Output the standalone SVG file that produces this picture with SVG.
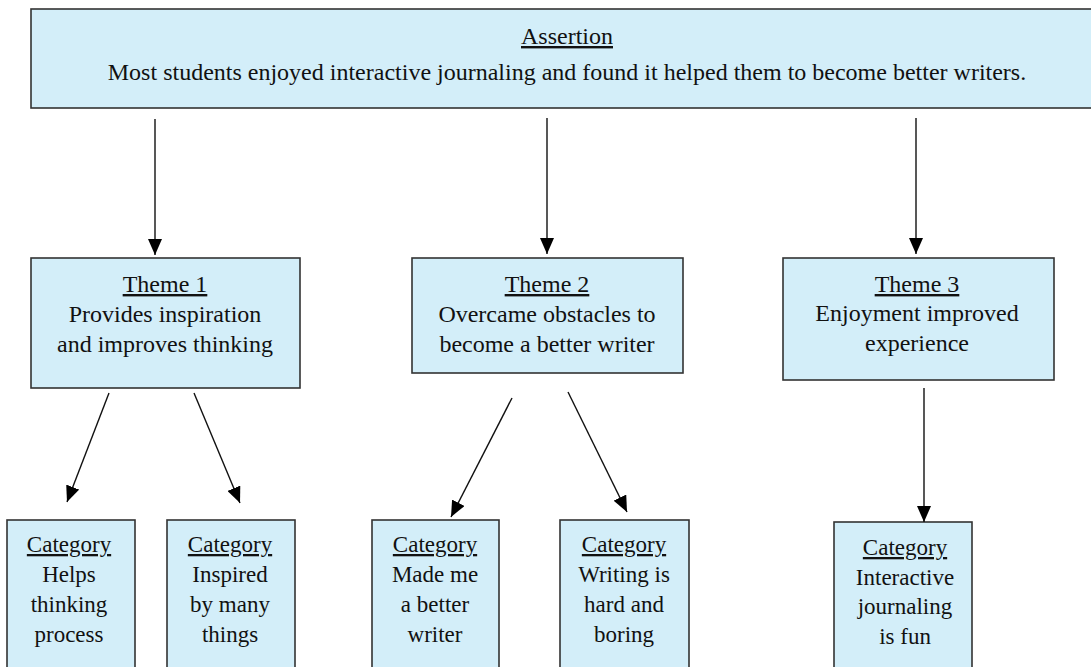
<svg xmlns="http://www.w3.org/2000/svg" width="1091" height="667" viewBox="0 0 1091 667">
<defs>
<style>
.box{fill:#d3eef9;stroke:#333;stroke-width:1.6}
.t{font-family:"Liberation Serif","Times New Roman",serif;font-size:24px;fill:#111;text-anchor:middle}
.s{font-size:23px}
.u{text-decoration:underline}
.c{stroke:#111;stroke-width:1.4;fill:none;marker-end:url(#ah)}
</style>
<marker id="ah" markerUnits="userSpaceOnUse" markerWidth="16" markerHeight="14" refX="16" refY="7" orient="auto">
<path d="M0,0 L16,7 L0,14 Z" fill="#000"/>
</marker>
</defs>
<rect width="1091" height="667" fill="#fff"/>
<g id="assertion">
<rect class="box" x="31" y="9" width="1070" height="99"/>
<text class="t u" x="567" y="44">Assertion</text>
<text class="t" x="567" y="80">Most students enjoyed interactive journaling and found it helped them to become better writers.</text>
</g>
<g id="theme1">
<rect class="box" x="31" y="258" width="269" height="130"/>
<text class="t u" x="165" y="292">Theme 1</text>
<text class="t" x="165" y="322">Provides inspiration</text>
<text class="t" x="165" y="352">and improves thinking</text>
</g>
<g id="theme2">
<rect class="box" x="412" y="258" width="271" height="115"/>
<text class="t u" x="547" y="292">Theme 2</text>
<text class="t" x="547" y="322">Overcame obstacles to</text>
<text class="t" x="547" y="352">become a better writer</text>
</g>
<g id="theme3">
<rect class="box" x="783" y="258" width="271" height="122"/>
<text class="t u" x="917" y="292">Theme 3</text>
<text class="t" x="917" y="321">Enjoyment improved</text>
<text class="t" x="917" y="351">experience</text>
</g>
<g id="cat1">
<rect class="box" x="7" y="520" width="128" height="160"/>
<text class="t s u" x="69" y="552">Category</text>
<text class="t s" x="69" y="582">Helps</text>
<text class="t s" x="69" y="612">thinking</text>
<text class="t s" x="69" y="642">process</text>
</g>
<g id="cat2">
<rect class="box" x="167" y="520" width="128" height="160"/>
<text class="t s u" x="230" y="552">Category</text>
<text class="t s" x="230" y="582">Inspired</text>
<text class="t s" x="230" y="612">by many</text>
<text class="t s" x="230" y="642">things</text>
</g>
<g id="cat3">
<rect class="box" x="372" y="520" width="127" height="160"/>
<text class="t s u" x="435" y="552">Category</text>
<text class="t s" x="435" y="582">Made me</text>
<text class="t s" x="435" y="612">a better</text>
<text class="t s" x="435" y="642">writer</text>
</g>
<g id="cat4">
<rect class="box" x="560" y="520" width="129" height="160"/>
<text class="t s u" x="624" y="552">Category</text>
<text class="t s" x="624" y="582">Writing is</text>
<text class="t s" x="624" y="612">hard and</text>
<text class="t s" x="624" y="642">boring</text>
</g>
<g id="cat5">
<rect class="box" x="834" y="522" width="138" height="160"/>
<text class="t s u" x="905" y="555">Category</text>
<text class="t s" x="905" y="585">Interactive</text>
<text class="t s" x="905" y="614">journaling</text>
<text class="t s" x="905" y="644">is fun</text>
</g>
<g id="connectors">
<line class="c" x1="155" y1="119" x2="155" y2="255"/>
<line class="c" x1="547" y1="118" x2="547" y2="254"/>
<line class="c" x1="916" y1="118" x2="916" y2="254"/>
<line class="c" x1="109" y1="393" x2="67" y2="502"/>
<line class="c" x1="194" y1="393" x2="240" y2="503"/>
<line class="c" x1="512" y1="398" x2="451" y2="517"/>
<line class="c" x1="568" y1="392" x2="627" y2="512"/>
<line class="c" x1="924" y1="388" x2="924" y2="522"/>
</g>
</svg>
